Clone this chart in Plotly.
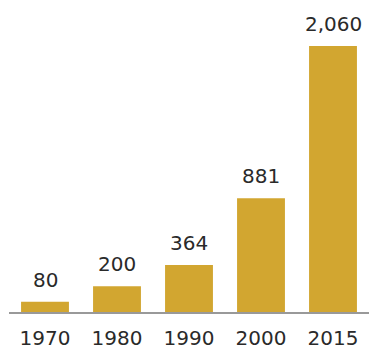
import plotly.graph_objects as go

years = ["1970", "1980", "1990", "2000", "2015"]
values = [80, 200, 364, 881, 2060]
labels = ["80", "200", "364", "881", "2,060"]

bar_color = "#D2A630"
text_color = "#2a2a2a"
font_family = "DejaVu Sans"

pos = list(range(len(years)))

fig = go.Figure()
fig.add_trace(go.Bar(x=pos, y=values, width=0.665,
                     marker=dict(color=bar_color, line=dict(width=0)),
                     hoverinfo="skip"))

for p, v, lab in zip(pos, values, labels):
    fig.add_annotation(x=p, y=v, text=lab, showarrow=False, yanchor="bottom",
                       yshift=8, font=dict(family=font_family, size=20, color=text_color))

fig.update_layout(
    width=369, height=349,
    margin=dict(l=9, r=0, t=0, b=37),
    plot_bgcolor="white", paper_bgcolor="white",
    showlegend=False,
    font=dict(family=font_family, size=20, color=text_color),
)
fig.update_xaxes(type="linear", range=[-0.5, 4.5], tickmode="array", tickvals=pos, ticktext=years,
                 automargin=False,
                 showgrid=False, zeroline=False, showline=True, linecolor="#999999", linewidth=2,
                 ticks="outside", ticklen=7, tickcolor="rgba(0,0,0,0)",
                 tickfont=dict(family=font_family, size=20, color=text_color))
fig.update_yaxes(range=[0, 2416], visible=False, showgrid=False, zeroline=False)

fig.write_html("out.html")
